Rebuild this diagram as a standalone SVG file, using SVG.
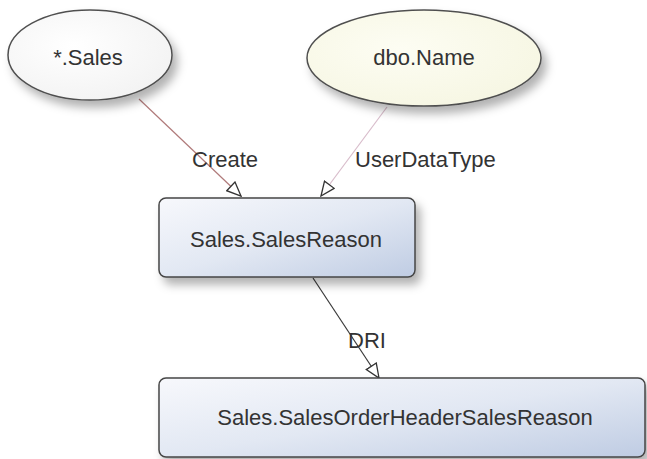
<svg xmlns="http://www.w3.org/2000/svg" width="647" height="459" viewBox="0 0 647 459">
<defs>
<style>
.lbl{font-family:"Liberation Sans",Arial,sans-serif;font-size:22px;fill:#333;}
.box{stroke:#454545;stroke-width:1.5;fill:url(#boxg);}
.ell{stroke:#505050;stroke-width:1.5;}
.edge{fill:none;stroke-width:1.2;}
</style>
<linearGradient id="boxg" x1="0" y1="0" x2="1" y2="1">
<stop offset="0" stop-color="#f7f8fc"/>
<stop offset="0.5" stop-color="#e2e8f3"/>
<stop offset="1" stop-color="#bfcce3"/>
</linearGradient>
<radialGradient id="wg" cx="0.4" cy="0.4" r="0.7">
<stop offset="0" stop-color="#ffffff"/>
<stop offset="1" stop-color="#f2f2f2"/>
</radialGradient>
<radialGradient id="yg" cx="0.4" cy="0.4" r="0.7">
<stop offset="0" stop-color="#fdfdf3"/>
<stop offset="1" stop-color="#f6f6e2"/>
</radialGradient>
<filter id="sh" x="-20%" y="-20%" width="150%" height="160%">
<feDropShadow dx="5" dy="7" stdDeviation="5" flood-color="#000" flood-opacity="0.3"/>
</filter>
<marker id="arr" viewBox="0 0 16 14" refX="15" refY="7" markerWidth="16" markerHeight="14" markerUnits="userSpaceOnUse" orient="auto">
<path d="M1,1 L15,7 L1,13 Z" fill="#fff" stroke="#333" stroke-width="1.3"/>
</marker>
</defs>
<rect width="647" height="459" fill="#fff"/>
<g id="connectors">
<line class="edge" x1="139" y1="99" x2="241" y2="196" stroke="#b07a7a" marker-end="url(#arr)"/>
<line class="edge" x1="387" y1="107" x2="321" y2="196" stroke="#d8bccb" marker-end="url(#arr)"/>
<line class="edge" x1="313" y1="278" x2="379" y2="378" stroke="#3a3a3a" marker-end="url(#arr)"/>
</g>
<g id="node-sales">
<ellipse class="ell" cx="90" cy="55" rx="82" ry="45" fill="url(#wg)" filter="url(#sh)"/>
<text class="lbl" x="88" y="65" text-anchor="middle">*.Sales</text>
</g>
<g id="node-dboname">
<ellipse class="ell" cx="424" cy="58" rx="117" ry="48" fill="url(#yg)" filter="url(#sh)"/>
<text class="lbl" x="424" y="65" text-anchor="middle">dbo.Name</text>
</g>
<g id="node-salesreason">
<rect class="box" x="159" y="198" width="256" height="79" rx="7" filter="url(#sh)"/>
<text class="lbl" x="286" y="247" text-anchor="middle">Sales.SalesReason</text>
</g>
<g id="node-sohsr">
<rect class="box" x="159" y="378" width="486" height="79" rx="7" filter="url(#sh)"/>
<text class="lbl" x="405" y="425" text-anchor="middle">Sales.SalesOrderHeaderSalesReason</text>
</g>
<g id="edge-labels">
<text class="lbl" x="192" y="167">Create</text>
<text class="lbl" x="355" y="167">UserDataType</text>
<text class="lbl" x="348" y="348">DRI</text>
</g>
</svg>
